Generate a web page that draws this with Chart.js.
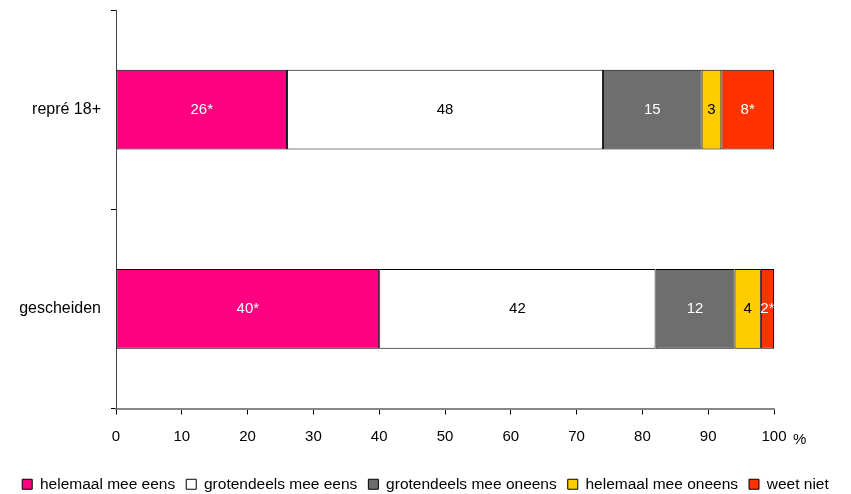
<!DOCTYPE html>
<html><head><meta charset="utf-8">
<script src="https://cdn.jsdelivr.net/npm/chart.js@4/dist/chart.umd.min.js"></script>
<style>html,body{margin:0;padding:0;background:#fff}#w{width:851px;height:494px}</style>
</head><body><div id="w"><canvas id="c"></canvas></div>
<script>
const categories = ['repré 18+', 'gescheiden'];
const seriesNames = ['helemaal mee eens', 'grotendeels mee eens', 'grotendeels mee oneens', 'helemaal mee oneens', 'weet niet'];
const helemaalEens = [26, 40];
const grotendeelsEens = [48, 42];
const grotendeelsOneens = [15, 12];
const helemaalOneens = [3, 4];
const weetNiet = [8, 2];
const valueLabels = [
  ['26*', '40*'],
  ['48', '42'],
  ['15', '12'],
  ['3', '4'],
  ['8*', '2*']
];
const xTicks = [0, 10, 20, 30, 40, 50, 60, 70, 80, 90, 100];

const colors = ['#FF0080', '#FFFFFF', '#6E6E6E', '#FFCC00', '#FF3300'];
const textColors = ['#fff', '#000', '#fff', '#000', '#fff'];
const allSeries = [helemaalEens, grotendeelsEens, grotendeelsOneens, helemaalOneens, weetNiet];

const FONT = '"Liberation Sans", Arial, sans-serif';

const labelPlugin = {
  id: 'inlabels',
  afterDatasetsDraw(chart) {
    const ctx = chart.ctx;
    ctx.save();
    ctx.font = '15px ' + FONT;
    ctx.textAlign = 'center';
    ctx.textBaseline = 'middle';
    chart.data.datasets.forEach((ds, i) => {
      const meta = chart.getDatasetMeta(i);
      meta.data.forEach((el, j) => {
        const cx = (el.x + el.base) / 2;
        ctx.fillStyle = textColors[i];
        ctx.fillText(valueLabels[i][j], cx, el.y);
      });
    });
    const xs = chart.scales.x;
    ctx.fillStyle = '#000';
    ctx.textAlign = 'left';
    ctx.fillText('%', xs.right + 19, xs.top + 31);
    ctx.restore();
  }
};

function noVPad(s) { s.paddingTop = 0; s.paddingBottom = 0; }

new Chart(document.getElementById('c'), {
  type: 'bar',
  data: {
    labels: categories,
    datasets: allSeries.map((d, i) => ({
      label: seriesNames[i],
      data: d,
      backgroundColor: colors[i],
      borderColor: '#000',
      borderWidth: 1,
      borderSkipped: false,
      barPercentage: 0.4,
      categoryPercentage: 1.0
    }))
  },
  options: {
    indexAxis: 'y',
    responsive: true,
    maintainAspectRatio: false,
    animation: false,
    layout: { padding: { left: 0, right: 0, top: 10, bottom: -8 } },
    scales: {
      x: {
        stacked: true,
        min: 0, max: 100,
        afterBuildTicks(s) { s.ticks = xTicks.map(v => ({ value: v })); },
        afterFit(s) { s.height = 57; },
        grid: { drawOnChartArea: false, drawTicks: true, tickLength: 6, color: '#000' },
        border: { color: '#888', width: 2 },
        ticks: { color: '#000', font: { family: FONT, size: 15 }, padding: 13, maxRotation: 0 }
      },
      y: {
        stacked: true,
        afterFit(s) { s.width = 116; noVPad(s); },
        grid: { drawOnChartArea: false, drawTicks: true, tickLength: 5, color: '#000', offset: true },
        border: { color: '#444', width: 1 },
        ticks: { color: '#000', font: { family: FONT, size: 16 }, padding: 10 }
      },
      spacer: {
        type: 'linear',
        position: 'right',
        display: true,
        afterFit(s) { s.width = 77; noVPad(s); },
        grid: { display: false, drawTicks: false },
        border: { display: false },
        ticks: { display: false }
      }
    },
    plugins: {
      legend: {
        position: 'bottom',
        labels: {
          color: '#000',
          font: { family: FONT, size: 15.5 },
          boxWidth: 10, boxHeight: 10,
          padding: 11
        }
      },
      tooltip: { enabled: false }
    }
  },
  plugins: [labelPlugin]
});
</script></body></html>
